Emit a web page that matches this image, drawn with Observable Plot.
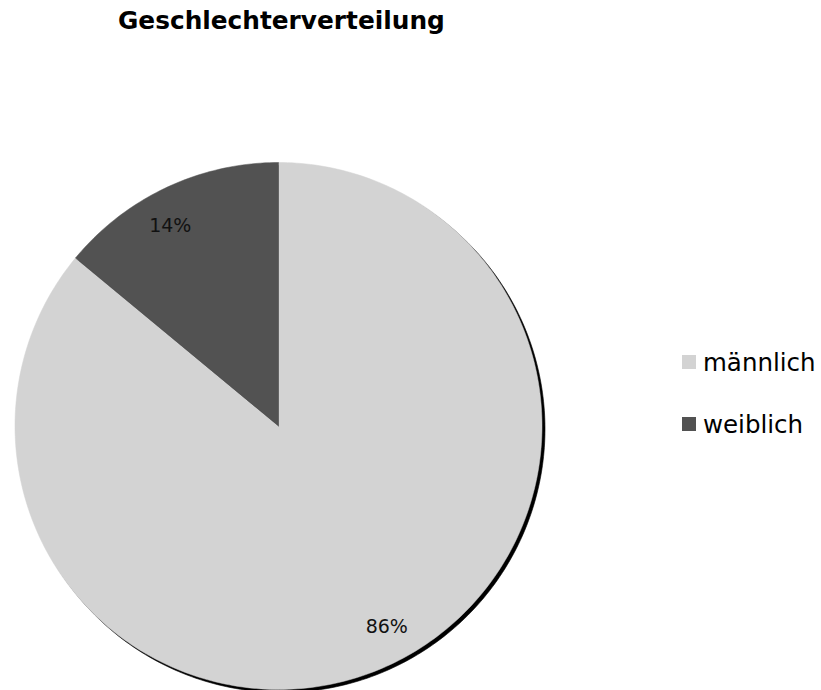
<!DOCTYPE html>
<html>
<head>
<meta charset="utf-8">
<script src="https://cdn.jsdelivr.net/npm/d3@7"></script>
<script src="https://cdn.jsdelivr.net/npm/@observablehq/plot@0.6"></script>
<style>
  html, body { margin: 0; padding: 0; background: #fff; }
  #wrap { position: relative; width: 821px; height: 690px; font-family: "DejaVu Sans", Verdana, sans-serif; }
  #title { position: absolute; left: 118px; top: 6px; font-size: 24.8px; font-weight: bold; color: #000; white-space: nowrap; }
  #legend { position: absolute; left: 682px; top: 347px; font-size: 24.5px; color: #000; }
  .item { display: flex; align-items: center; height: 30px; margin-bottom: 32px; white-space: nowrap; }
  .sw { width: 14px; height: 14px; margin-right: 7px; }
  #chart { position: absolute; left: 0; top: 0; }
</style>
</head>
<body>
<div id="wrap">
  <div id="chart"></div>
  <div id="title">Geschlechterverteilung</div>
  <div id="legend"></div>
</div>
<script>
const title = "Geschlechterverteilung";
const categories = ["männlich", "weiblich"];
const values = [86, 14];
const labels = ["86%", "14%"];
const colors = ["#d3d3d3", "#525252"];

const pie = d3.pie().sort(null).value(d => d.value);
const arcs = pie(categories.map((c, i) => ({key: c, value: values[i], label: labels[i]})));

const N = 360;
const slicePts = [];
arcs.forEach(a => {
  slicePts.push({key: a.data.key, x: 0, y: 0});
  const n = Math.max(2, Math.ceil(N * (a.endAngle - a.startAngle) / (2 * Math.PI)));
  for (let k = 0; k <= n; k++) {
    const t = a.startAngle + (a.endAngle - a.startAngle) * k / n;
    slicePts.push({key: a.data.key, x: Math.sin(t), y: Math.cos(t)});
  }
  slicePts.push({key: a.data.key, x: 0, y: 0});
});
const circlePts = d3.range(N + 1).map(k => {
  const t = 2 * Math.PI * k / N;
  return {x: Math.sin(t), y: Math.cos(t)};
});
const labelRadius = 0.865;
const labelTurn = -0.055;
const labelPts = arcs.map(a => {
  const m = (a.startAngle + a.endAngle) / 2 + labelTurn;
  return {x: labelRadius * Math.sin(m), y: labelRadius * Math.cos(m), label: a.data.label};
});

const chart = Plot.plot({
  width: 821,
  height: 690,
  marginLeft: 14.5,
  marginRight: 279.5,
  marginTop: 162,
  marginBottom: 1,
  x: {domain: [-1, 1], axis: null},
  y: {domain: [-1, 1], axis: null},
  color: {domain: categories, range: colors},
  style: {fontFamily: "DejaVu Sans, Verdana, sans-serif", background: "transparent"},
  marks: [
    Plot.line(circlePts, {x: "x", y: "y", fill: "#000", stroke: "#000", strokeWidth: 0.6, dx: 3, dy: 3}),
    Plot.line(slicePts, {x: "x", y: "y", z: "key", fill: "key", stroke: "key", strokeWidth: 0.5}),
    Plot.text(labelPts, {x: "x", y: "y", text: "label", fontSize: 19, fill: "#111"})
  ]
});
document.getElementById("chart").appendChild(chart);

const legend = document.getElementById("legend");
categories.forEach((c, i) => {
  const item = document.createElement("div");
  item.className = "item";
  const sw = document.createElement("div");
  sw.className = "sw";
  sw.style.background = colors[i];
  const tx = document.createElement("span");
  tx.textContent = c;
  item.appendChild(sw);
  item.appendChild(tx);
  legend.appendChild(item);
});
</script>
</body>
</html>
